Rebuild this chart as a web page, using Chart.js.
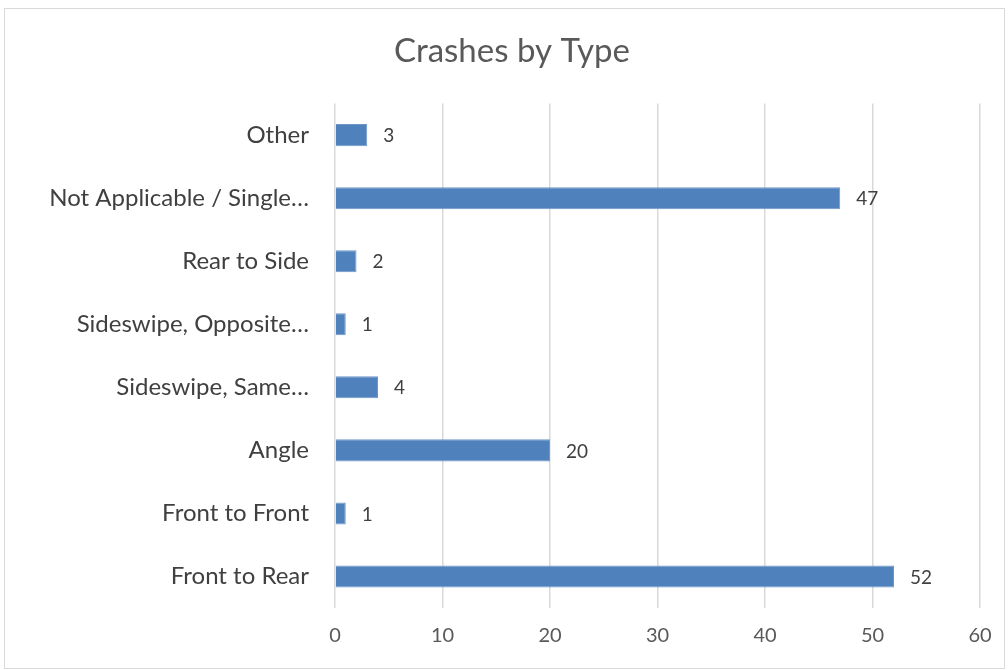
<!DOCTYPE html>
<html>
<head>
<meta charset="utf-8">
<script src="https://cdn.jsdelivr.net/npm/chart.js@4/dist/chart.umd.min.js"></script>
<style>
  html, body { margin: 0; padding: 0; background: #fff; }
  #wrap { position: relative; width: 1008px; height: 670px; }
  #frame { position: absolute; left: 4px; top: 8px; width: 1001px; height: 661px; border: 1px solid #d9d9d9; box-sizing: border-box; pointer-events: none; }
</style>
</head>
<body>
<div id="wrap">
  <canvas id="myChart" width="1008" height="670"></canvas>
  <div id="frame"></div>
</div>
<script>
const crashTypes = ['Other', 'Not Applicable / Single…', 'Rear to Side', 'Sideswipe, Opposite…',
    'Sideswipe, Same…', 'Angle', 'Front to Front', 'Front to Rear'];
const crashCounts = [3, 47, 2, 1, 4, 20, 1, 52];
const xTicks = [0, 10, 20, 30, 40, 50, 60];

const fontFamily = 'Lato, "Open Sans", sans-serif';

// writes each bar's count just past the end of the bar
const valueLabels = {
    id: 'valueLabels',
    afterDatasetsDraw(chart) {
        const { ctx } = chart;
        const meta = chart.getDatasetMeta(0);
        ctx.save();
        ctx.font = '19px ' + fontFamily;
        ctx.fillStyle = '#404040';
        ctx.textAlign = 'left';
        ctx.textBaseline = 'middle';
        meta.data.forEach((bar, i) => {
            ctx.fillText(String(crashCounts[i]), bar.x + 16, bar.y + 1);
        });
        ctx.restore();
    }
};

const ctx = document.getElementById('myChart').getContext('2d');
const myChart = new Chart(ctx, {
    type: 'bar',
    data: {
        labels: crashTypes,
        datasets: [{
            data: crashCounts,
            backgroundColor: '#4f81bd',
            borderColor: '#6d97c9',
            borderWidth: 1,
            categoryPercentage: 1,
            barPercentage: 0.35
        }]
    },
    options: {
        indexAxis: 'y',
        responsive: false,
        animation: false,
        layout: { padding: { left: 44, right: 28, top: 0, bottom: 12 } },
        plugins: {
            legend: { display: false },
            tooltip: { enabled: false },
            title: {
                display: true,
                text: 'Crashes by Type',
                color: '#595959',
                font: { family: fontFamily, size: 33, weight: 'normal' },
                padding: { top: 32, bottom: 32 }
            }
        },
        scales: {
            x: {
                min: 0,
                max: 60,
                afterBuildTicks(scale) {
                    scale.ticks = xTicks.map(v => ({ value: v }));
                },
                afterFit(scale) { scale.height = 50; },
                grid: { color: '#d9d9d9', lineWidth: 1.5, drawTicks: false },
                border: { display: false },
                ticks: {
                    color: '#595959',
                    padding: 16,
                    font: { family: fontFamily, size: 20 }
                }
            },
            y: {
                afterFit(scale) { scale.width = 291; },
                grid: { display: false, drawTicks: false },
                border: { display: false },
                ticks: {
                    color: '#404040',
                    padding: 26,
                    autoSkip: false,
                    font: { family: fontFamily, size: 24 }
                }
            }
        }
    },
    plugins: [valueLabels]
});
</script>
</body>
</html>
